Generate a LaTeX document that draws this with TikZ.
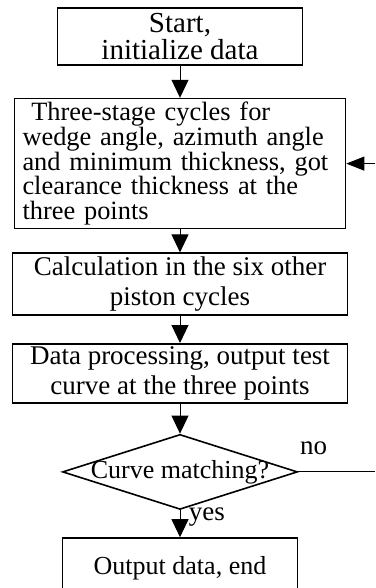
\documentclass[tikz,border=0pt]{standalone}
\usepackage{fontspec}
\setmainfont{Liberation Serif}
\usetikzlibrary{shapes.geometric, arrows.meta, positioning}
\tikzstyle{startstop} = [rectangle, minimum width=245pt, minimum height=57pt, inner sep=2pt, align=center, draw=black, line width=1.6pt, font=\fontsize{29}{27}\selectfont]
\tikzstyle{process} = [rectangle, minimum width=335pt, minimum height=60pt, inner sep=2pt, align=center, draw=black, line width=1.6pt, font=\fontsize{27}{30}\selectfont]
\tikzstyle{decision} = [diamond, aspect=3.13, minimum width=235pt, minimum height=75pt, inner sep=0pt, draw=black, line width=1.6pt, font=\fontsize{26}{28}\selectfont]
\tikzstyle{arrow} = [line width=1pt, -{Triangle[length=18pt, width=17pt]}]
\tikzstyle{harrow} = [line width=1pt, -{Triangle[length=18pt, width=14pt]}]
\tikzstyle{line} = [line width=1pt]

\begin{document}
\begin{tikzpicture}[font=\fontsize{27}{30}\selectfont]
      \useasboundingbox (0,0) rectangle (375pt,-588pt);

      \node (init)    [startstop] at (180pt,-36.5pt)           {Start,\\initialize data};
      \node (cycles)  [process, below=32pt of init, minimum width=331pt, minimum height=130pt,
                       align=left, text width=315pt, font=\fontsize{26.4}{24.8}\selectfont]
                      {\ Three-stage cycles for\\wedge angle, azimuth angle\\and minimum thickness, got\\clearance thickness at the\\three points};
      \node (calc)    [process, below=23pt of cycles, minimum height=62pt] {Calculation in the six other\\piston cycles};
      \node (curve)   [process, below=27pt of calc, minimum height=59pt]   {Data processing, output test\\curve at the three points};
      \node (match)   [decision, below=30pt of curve, label={[font=\fontsize{26}{28}\selectfont]center:Curve matching?}] {};
      \node (output)  [startstop, below=27pt of match, minimum width=235pt, minimum height=60pt,
                       font=\fontsize{26}{28}\selectfont] {Output data, end};

      \coordinate (rightedge) at (375pt, 0);
      \coordinate (noend)     at (match.east -| rightedge);
      \coordinate (backin)    at (cycles.east -| rightedge);

      \draw [arrow] (init)   -- (cycles);
      \draw [arrow] (cycles) -- (calc);
      \draw [arrow] (calc)   -- (curve);
      \draw [arrow] (curve)  -- (match);
      \draw [arrow] (match)  -- node[anchor=base west, xshift=5pt, yshift=3pt] {yes} (output);

      \draw [line]  (match.east) -- node[pos=.2, anchor=base, yshift=17pt] {no} (noend);
      \draw [harrow] (backin) -- (cycles.east);
    \end{tikzpicture}
\end{document}
